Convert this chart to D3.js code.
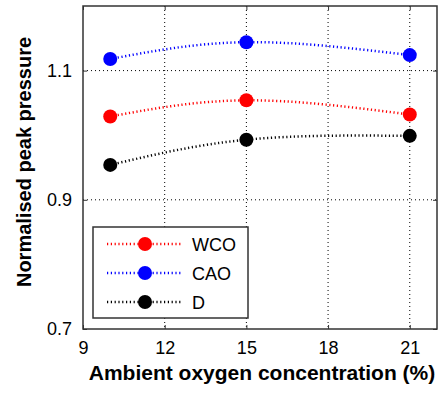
<!DOCTYPE html>
<meta charset="utf-8">
<style>
  body { margin: 0; background: #fff; }
  text { font-family: "Liberation Sans", Arial, sans-serif; }
</style>
<script src="https://d3js.org/d3.v7.min.js"></script>
<div id="chart"></div>
<script>
  // data
  var oxygen = [10, 15, 21];
  var seriesNames = ["WCO", "CAO", "D"];
  var seriesColors = ["#ff0000", "#0000ff", "#000000"];
  var wco = [1.029, 1.054, 1.032];
  var cao = [1.118, 1.144, 1.124];
  var diesel = [0.954, 0.993, 0.999];
  var xTicks = [9, 12, 15, 18, 21];
  var yTicks = [0.7, 0.9, 1.1];

  var margin = {top: 6, right: 4, bottom: 64, left: 83},
    width = 441 - margin.left - margin.right,
    height = 393 - margin.top - margin.bottom;

  var svg = d3.select("#chart").append("svg")
    .attr("width", 441)
    .attr("height", 393)
    .append("g")
    .attr("transform", "translate(" + margin.left + "," + margin.top + ")");

  var x = d3.scaleLinear().domain([9, 22]).range([0, width]);
  var y = d3.scaleLinear().domain([0.7, 1.2]).range([height, 0]);

  // grid
  svg.append("g").selectAll("line").data(xTicks.slice(1)).enter().append("line")
    .attr("x1", function(d) { return x(d); }).attr("x2", function(d) { return x(d); })
    .attr("y1", 0).attr("y2", height)
    .attr("stroke", "#000").attr("stroke-width", 1).attr("stroke-dasharray", "1,3");
  svg.append("g").selectAll("line").data(yTicks.slice(1)).enter().append("line")
    .attr("y1", function(d) { return y(d); }).attr("y2", function(d) { return y(d); })
    .attr("x1", 0).attr("x2", width)
    .attr("stroke", "#000").attr("stroke-width", 1).attr("stroke-dasharray", "1,3");

  // axes (matlab style inside ticks)
  svg.append("g")
    .attr("transform", "translate(0," + height + ")")
    .call(d3.axisBottom(x).tickValues(xTicks).tickSize(-4).tickPadding(12).tickFormat(d3.format("d")));
  svg.append("g")
    .call(d3.axisLeft(y).tickValues(yTicks).tickSize(-4).tickPadding(11).tickFormat(d3.format(".1f")));
  svg.append("g").call(d3.axisTop(x).tickValues(xTicks).tickSize(-4).tickFormat(""));
  svg.append("g").attr("transform", "translate(" + width + ",0)")
    .call(d3.axisRight(y).tickValues(yTicks).tickSize(-4).tickFormat(""));
  svg.selectAll(".domain").remove();
  svg.selectAll(".tick line").attr("stroke", "#333");
  svg.selectAll(".tick text").attr("font-size", 18).attr("fill", "#000")
    .style("font-family", "'Liberation Sans', Arial, sans-serif");

  svg.append("rect")
    .attr("width", width).attr("height", height)
    .attr("fill", "none").attr("stroke", "#333").attr("stroke-width", 1.5);

  // labels
  svg.append("text")
    .attr("x", 262 - margin.left)
    .attr("y", height + 51)
    .attr("text-anchor", "middle")
    .attr("font-size", 21).attr("font-weight", "bold")
    .text("Ambient oxygen concentration (%)");
  svg.append("text")
    .attr("transform", "rotate(-90)")
    .attr("x", -(162 - margin.top))
    .attr("y", -margin.left + 31)
    .attr("text-anchor", "middle")
    .attr("font-size", 20).attr("font-weight", "bold")
    .text("Normalised peak pressure");

  // series
  var allSeries = [wco, cao, diesel];
  var line = d3.line()
    .x(function(d, i) { return x(oxygen[i]); })
    .y(function(d) { return y(d); })
    .curve(d3.curveNatural);

  allSeries.forEach(function(vals, k) {
    svg.append("path")
      .datum(vals)
      .attr("d", line)
      .attr("fill", "none")
      .attr("stroke", seriesColors[k])
      .attr("stroke-width", 2.5)
      .attr("stroke-dasharray", "1.2,2.6");
    svg.append("g").selectAll("circle").data(vals).enter().append("circle")
      .attr("cx", function(d, i) { return x(oxygen[i]); })
      .attr("cy", function(d) { return y(d); })
      .attr("r", 7)
      .attr("fill", seriesColors[k]);
  });

  // legend
  var lg = svg.append("g").attr("transform", "translate(10," + (227 - margin.top) + ")");
  lg.append("rect")
    .attr("width", 155).attr("height", 91)
    .attr("fill", "#fff").attr("stroke", "#333").attr("stroke-width", 1.5);
  seriesNames.forEach(function(name, k) {
    var cy = 17 + k * 29;
    lg.append("line")
      .attr("x1", 14).attr("x2", 90).attr("y1", cy).attr("y2", cy)
      .attr("stroke", seriesColors[k]).attr("stroke-width", 2.5).attr("stroke-dasharray", "1.2,2.6");
    lg.append("circle").attr("cx", 52).attr("cy", cy).attr("r", 7).attr("fill", seriesColors[k]);
    lg.append("text").attr("x", 99).attr("y", cy + 7)
      .attr("font-size", 18).text(name);
  });
</script>
